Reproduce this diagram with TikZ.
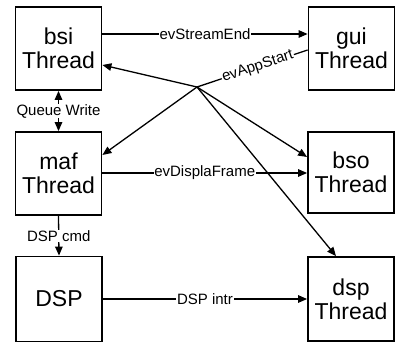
\documentclass[tikz,border=0pt]{standalone}
\usepackage{fontspec}
\setmainfont{Liberation Sans}
\usetikzlibrary{arrows.meta}
\begin{document}
\begin{tikzpicture}[x=1pt,y=-1pt,
  thread/.style={draw,line width=1.8pt,minimum width=86pt,minimum height=83pt,
    align=center,font=\fontsize{23}{24}\selectfont,inner sep=0pt},
  link/.style={line width=1.3pt},
  arr/.style={link,-{Triangle[length=9pt,width=7.5pt]}},
  both/.style={link,{Triangle[length=9pt,width=7.5pt]}-{Triangle[length=9pt,width=7.5pt]}},
  lbl/.style={fill=white,inner sep=0.8pt,font=\fontsize{15}{16}\selectfont}]
\useasboundingbox (0,0) rectangle (396,343);
% thread boxes
\node[thread] (bsi) at (58.5,48.5) {bsi\\Thread};
\node[thread] (maf) at (58.5,173.5) {maf\\Thread};
\node[thread,minimum height=85pt] (DSP) at (59,299) {DSP};
\node[thread] (gui) at (351.5,48.5) {gui\\Thread};
\node[thread,minimum height=81pt] (bso) at (351,172.5) {bso\\Thread};
\node[thread,minimum height=84pt] (dsp) at (351,299) {dsp\\Thread};
% fan-out point of evAppStart
\coordinate (hub) at (197,87);
% horizontal events
\draw[arr] ([yshift=14.5pt]bsi.east) -- node[lbl] {evStreamEnd} ([yshift=14.5pt]gui.west);
\draw[arr] ([yshift=0.5pt]maf.east) -- node[lbl] {evDisplaFrame} ([yshift=-0.5pt]bso.west);
\draw[arr] (DSP.east) -- node[lbl] {DSP intr} (dsp.west);
% evAppStart broadcast
\draw[link] ([yshift=-1.5pt]gui.west) -- node[lbl,sloped,pos=0.45] {evAppStart} (hub);
\draw[arr] (hub) -- ([yshift=-16.5pt]bsi.east);
\draw[arr] (hub) -- ([yshift=18.5pt]maf.east);
\draw[arr] (hub) -- ([yshift=15.5pt]bso.west);
\draw[arr] (hub) -- ([xshift=-15pt]dsp.north);
% vertical links on the left
\draw[both] (bsi.south) -- node[lbl,inner sep=0.3pt] {Queue Write} (maf.north);
\draw[arr] (maf.south) -- node[lbl,inner sep=0.3pt] {DSP cmd} (DSP.north);
\end{tikzpicture}
\end{document}
